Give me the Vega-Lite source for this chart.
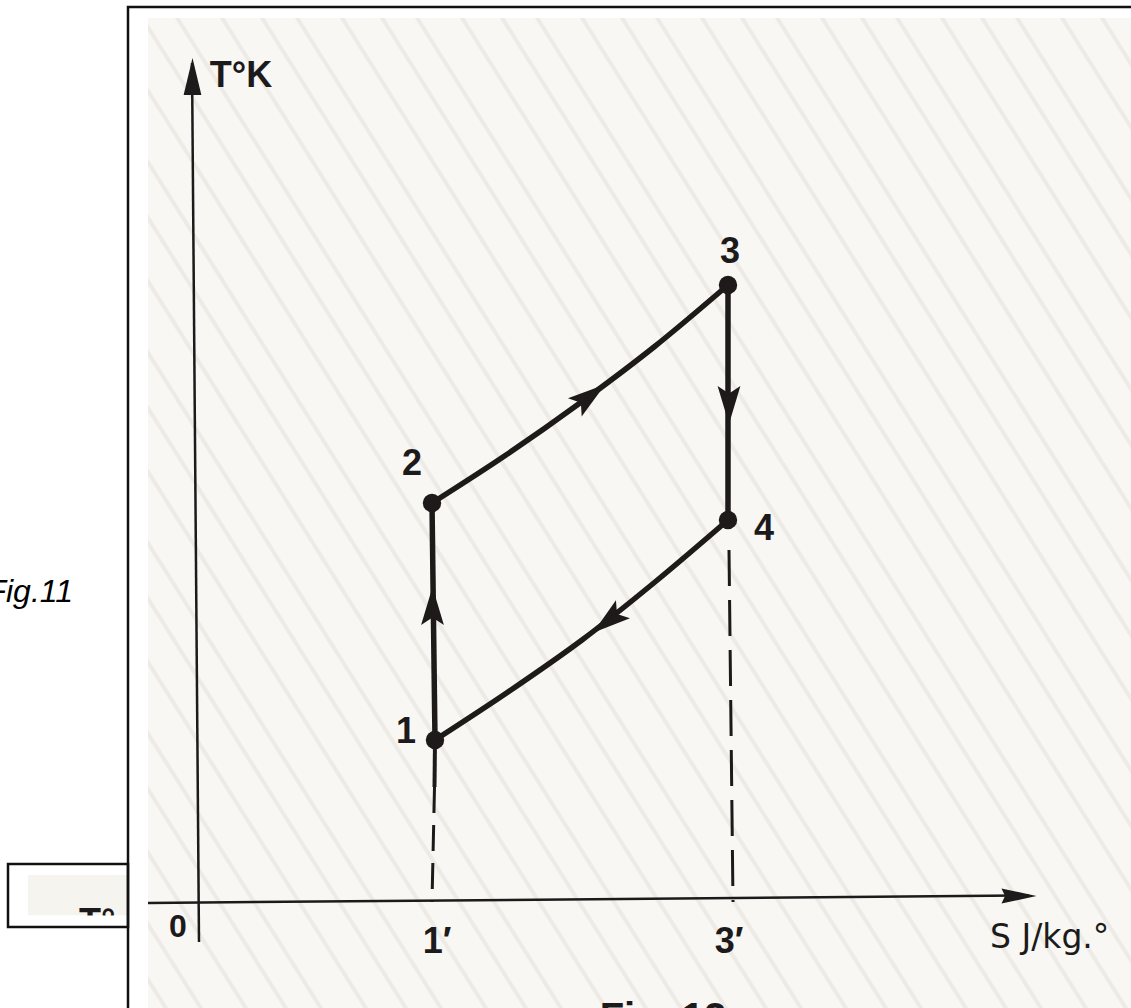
{
  "$schema": "https://vega.github.io/schema/vega-lite/v6.json",
  "width": 1131,
  "height": 1008,
  "autosize": {"type": "fit", "contains": "padding"},
  "padding": 0,
  "background": "#ffffff",
  "config": {"view": {"stroke": null}},
  "datasets": {
    "frame": [
      {"part": "paper", "s": -0.51, "s2": 9.7, "t": 8.85, "t2": -1.3},
      {"part": "cover", "s": -2.2, "s2": -0.51, "t": 9.3, "t2": -1.3},
      {"part": "cover", "s": -2.2, "s2": 9.7, "t": 9.3, "t2": 8.85},
      {"part": "frame", "s": -0.71, "s2": 9.8, "t": 8.96, "t2": -1.4},
      {"part": "box", "s": -1.91, "s2": -0.71, "t": 0.39, "t2": -0.24},
      {"part": "boxPaper", "s": -1.71, "s2": -0.72, "t": 0.28, "t2": -0.125},
      {"part": "boxCover", "s": -1.71, "s2": -0.72, "t": -0.125, "t2": -0.5}
    ],
    "hatch": [
      {"s": -7.0, "s2": -0.7, "t": 8.9, "t2": -1.1},
      {"s": -6.6, "s2": -0.3, "t": 8.9, "t2": -1.1},
      {"s": -6.25, "s2": 0.05, "t": 8.9, "t2": -1.1},
      {"s": -5.8, "s2": 0.5, "t": 8.9, "t2": -1.1},
      {"s": -5.4, "s2": 0.9, "t": 8.9, "t2": -1.1},
      {"s": -5.05, "s2": 1.25, "t": 8.9, "t2": -1.1},
      {"s": -4.6, "s2": 1.7, "t": 8.9, "t2": -1.1},
      {"s": -4.2, "s2": 2.1, "t": 8.9, "t2": -1.1},
      {"s": -3.85, "s2": 2.45, "t": 8.9, "t2": -1.1},
      {"s": -3.4, "s2": 2.9, "t": 8.9, "t2": -1.1},
      {"s": -3.0, "s2": 3.3, "t": 8.9, "t2": -1.1},
      {"s": -2.65, "s2": 3.65, "t": 8.9, "t2": -1.1},
      {"s": -2.2, "s2": 4.1, "t": 8.9, "t2": -1.1},
      {"s": -1.8, "s2": 4.5, "t": 8.9, "t2": -1.1},
      {"s": -1.45, "s2": 4.85, "t": 8.9, "t2": -1.1},
      {"s": -1.0, "s2": 5.3, "t": 8.9, "t2": -1.1},
      {"s": -0.6, "s2": 5.7, "t": 8.9, "t2": -1.1},
      {"s": -0.25, "s2": 6.05, "t": 8.9, "t2": -1.1},
      {"s": 0.2, "s2": 6.5, "t": 8.9, "t2": -1.1},
      {"s": 0.6, "s2": 6.9, "t": 8.9, "t2": -1.1},
      {"s": 0.95, "s2": 7.25, "t": 8.9, "t2": -1.1},
      {"s": 1.4, "s2": 7.7, "t": 8.9, "t2": -1.1},
      {"s": 1.8, "s2": 8.1, "t": 8.9, "t2": -1.1},
      {"s": 2.15, "s2": 8.45, "t": 8.9, "t2": -1.1},
      {"s": 2.6, "s2": 8.9, "t": 8.9, "t2": -1.1},
      {"s": 3.0, "s2": 9.3, "t": 8.9, "t2": -1.1},
      {"s": 3.35, "s2": 9.65, "t": 8.9, "t2": -1.1},
      {"s": 3.8, "s2": 10.1, "t": 8.9, "t2": -1.1},
      {"s": 4.2, "s2": 10.5, "t": 8.9, "t2": -1.1},
      {"s": 4.55, "s2": 10.85, "t": 8.9, "t2": -1.1},
      {"s": 5.0, "s2": 11.3, "t": 8.9, "t2": -1.1},
      {"s": 5.4, "s2": 11.7, "t": 8.9, "t2": -1.1},
      {"s": 5.75, "s2": 12.05, "t": 8.9, "t2": -1.1},
      {"s": 6.2, "s2": 12.5, "t": 8.9, "t2": -1.1},
      {"s": 6.6, "s2": 12.9, "t": 8.9, "t2": -1.1},
      {"s": 6.95, "s2": 13.25, "t": 8.9, "t2": -1.1},
      {"s": 7.4, "s2": 13.7, "t": 8.9, "t2": -1.1},
      {"s": 7.8, "s2": 14.1, "t": 8.9, "t2": -1.1},
      {"s": 8.15, "s2": 14.45, "t": 8.9, "t2": -1.1},
      {"s": 8.6, "s2": 14.9, "t": 8.9, "t2": -1.1},
      {"s": 9.0, "s2": 15.3, "t": 8.9, "t2": -1.1}
    ],
    "rules": [
      {"id": "yaxis", "s": -0.07, "t": 8.4, "s2": 0.0, "t2": -0.39},
      {"id": "xaxis", "s": -0.51, "t": 0.0, "s2": 8.3, "t2": 0.075},
      {"id": "p12", "s": 2.36, "t": 1.63, "s2": 2.33, "t2": 4.0},
      {"id": "p34", "s": 5.29, "t": 6.18, "s2": 5.29, "t2": 3.83},
      {"id": "stub", "s": 2.36, "t": 1.63, "s2": 2.355, "t2": 1.16},
      {"id": "dash1", "s": 2.355, "t": 1.16, "s2": 2.33, "t2": 0.01},
      {"id": "dash3", "s": 5.3, "t": 3.53, "s2": 5.34, "t2": 0.01}
    ],
    "curves": [
      {"seg": "2-3", "s": 2.33, "t": 4.0},
      {"seg": "2-3", "s": 3.07, "t": 4.48},
      {"seg": "2-3", "s": 3.81, "t": 5.0},
      {"seg": "2-3", "s": 4.55, "t": 5.56},
      {"seg": "2-3", "s": 5.29, "t": 6.18},
      {"seg": "4-1", "s": 2.36, "t": 1.63},
      {"seg": "4-1", "s": 3.09, "t": 2.11},
      {"seg": "4-1", "s": 3.83, "t": 2.63},
      {"seg": "4-1", "s": 4.56, "t": 3.21},
      {"seg": "4-1", "s": 5.29, "t": 3.83}
    ],
    "states": [
      {"state": "1", "s": 2.36, "t": 1.63},
      {"state": "2", "s": 2.33, "t": 4.0},
      {"state": "3", "s": 5.29, "t": 6.18},
      {"state": "4", "s": 5.29, "t": 3.83}
    ],
    "arrows": [
      {"seg": "yaxis", "s": -0.065, "t": 8.265},
      {"seg": "xaxis", "s": 8.2, "t": 0.07},
      {"seg": "1-2", "s": 2.335, "t": 2.97},
      {"seg": "2-3", "s": 3.91, "t": 5.07},
      {"seg": "3-4", "s": 5.3, "t": 4.98},
      {"seg": "4-1", "s": 4.09, "t": 2.82}
    ],
    "texts": [
      {"kind": "state", "label": "1", "s": 2.07, "t": 1.6},
      {"kind": "state", "label": "2", "s": 2.13, "t": 4.28},
      {"kind": "state", "label": "3", "s": 5.31, "t": 6.4},
      {"kind": "state", "label": "4", "s": 5.65, "t": 3.63},
      {"kind": "state", "label": "T°K", "s": 0.42, "t": 8.16},
      {"kind": "tick", "label": "1′", "s": 2.38, "t": -0.5},
      {"kind": "tick", "label": "3′", "s": 5.3, "t": -0.5},
      {"kind": "origin", "label": "0", "s": -0.21, "t": -0.34},
      {"kind": "sAxis", "label": "S J/kg.°", "s": 7.91, "t": -0.45},
      {"kind": "fig11", "label": "Fig.11", "s": -1.26, "t": 3.01},
      {"kind": "fig12", "label": "Fig. 12", "s": 4.64, "t": -1.28},
      {"kind": "boxText", "label": "T°", "s": -1.2, "t": -0.31}
    ]
  },
  "encoding": {
    "x": {"field": "s", "type": "quantitative", "scale": {"domain": [-1.99, 9.32], "nice": false, "zero": false}, "axis": null},
    "y": {"field": "t", "type": "quantitative", "scale": {"domain": [-1.05, 9.03], "nice": false, "zero": false}, "axis": null}
  },
  "layer": [
    {
      "data": {"name": "frame"},
      "transform": [{"filter": "datum.part === 'paper'"}],
      "mark": {"type": "rect", "fill": "#f8f7f3", "clip": true},
      "encoding": {"x2": {"field": "s2"}, "y2": {"field": "t2"}}
    },
    {
      "data": {"name": "hatch"},
      "mark": {"type": "rule", "stroke": "#eeebe6", "strokeWidth": 4, "clip": true},
      "encoding": {"x2": {"field": "s2"}, "y2": {"field": "t2"}}
    },
    {
      "data": {"name": "frame"},
      "transform": [{"filter": "datum.part === 'cover' || datum.part === 'box'"}],
      "mark": {"type": "rect", "fill": "#ffffff", "clip": true},
      "encoding": {"x2": {"field": "s2"}, "y2": {"field": "t2"}}
    },
    {
      "data": {"name": "frame"},
      "transform": [{"filter": "datum.part === 'boxPaper'"}],
      "mark": {"type": "rect", "fill": "#f6f4ef", "clip": true},
      "encoding": {"x2": {"field": "s2"}, "y2": {"field": "t2"}}
    },
    {
      "data": {"name": "texts"},
      "transform": [{"filter": "datum.kind === 'boxText'"}],
      "mark": {"type": "text", "font": "Liberation Sans", "fontWeight": "bold", "fontSize": 36, "align": "left", "baseline": "alphabetic", "color": "#1c1a1a", "clip": true},
      "encoding": {"text": {"field": "label"}}
    },
    {
      "data": {"name": "frame"},
      "transform": [{"filter": "datum.part === 'boxCover'"}],
      "mark": {"type": "rect", "fill": "#ffffff", "clip": true},
      "encoding": {"x2": {"field": "s2"}, "y2": {"field": "t2"}}
    },
    {
      "data": {"name": "frame"},
      "transform": [{"filter": "datum.part === 'frame' || datum.part === 'box'"}],
      "mark": {"type": "rect", "fill": "#ffffff", "fillOpacity": 0, "stroke": "#111111", "strokeWidth": 2.5, "clip": true},
      "encoding": {"x2": {"field": "s2"}, "y2": {"field": "t2"}}
    },
    {
      "data": {"name": "texts"},
      "transform": [{"filter": "datum.kind === 'fig11'"}],
      "mark": {"type": "text", "font": "Liberation Sans", "fontStyle": "italic", "fontSize": 32, "align": "right", "baseline": "alphabetic", "color": "#000000", "clip": true},
      "encoding": {"text": {"field": "label"}}
    },
    {
      "data": {"name": "texts"},
      "transform": [{"filter": "datum.kind === 'fig12'"}],
      "mark": {"type": "text", "font": "Liberation Sans", "fontWeight": "bold", "fontSize": 40, "align": "center", "baseline": "alphabetic", "color": "#1c1a1a", "clip": true},
      "encoding": {"text": {"field": "label"}}
    },
    {
      "data": {"name": "rules"},
      "transform": [{"filter": "datum.id === 'yaxis' || datum.id === 'xaxis'"}],
      "mark": {"type": "rule", "stroke": "#1c1a1a", "strokeWidth": 2.5, "clip": true},
      "encoding": {"x2": {"field": "s2"}, "y2": {"field": "t2"}}
    },
    {
      "data": {"name": "rules"},
      "transform": [{"filter": "datum.id === 'dash1'"}],
      "mark": {"type": "rule", "stroke": "#1c1a1a", "strokeWidth": 3, "strokeDash": [26, 12], "clip": true},
      "encoding": {"x2": {"field": "s2"}, "y2": {"field": "t2"}}
    },
    {
      "data": {"name": "rules"},
      "transform": [{"filter": "datum.id === 'dash3'"}],
      "mark": {"type": "rule", "stroke": "#1c1a1a", "strokeWidth": 3, "strokeDash": [36, 14], "clip": true},
      "encoding": {"x2": {"field": "s2"}, "y2": {"field": "t2"}}
    },
    {
      "data": {"name": "rules"},
      "transform": [{"filter": "datum.id === 'stub'"}],
      "mark": {"type": "rule", "stroke": "#1c1a1a", "strokeWidth": 4, "clip": true},
      "encoding": {"x2": {"field": "s2"}, "y2": {"field": "t2"}}
    },
    {
      "data": {"name": "rules"},
      "transform": [{"filter": "datum.id === 'p12' || datum.id === 'p34'"}],
      "mark": {"type": "rule", "stroke": "#1e1a1a", "strokeWidth": 5.5, "clip": true},
      "encoding": {"x2": {"field": "s2"}, "y2": {"field": "t2"}}
    },
    {
      "data": {"name": "curves"},
      "mark": {"type": "line", "stroke": "#1e1a1a", "strokeWidth": 5.5, "interpolate": "monotone", "clip": true},
      "encoding": {"detail": {"field": "seg"}, "order": {"field": "s", "type": "quantitative"}}
    },
    {
      "data": {"name": "arrows"},
      "transform": [{"filter": "datum.seg === 'yaxis'"}],
      "mark": {"type": "point", "shape": "M0,-1L0.48,1L-0.48,1Z", "filled": true, "size": 1369, "angle": 0, "color": "#1c1a1a", "opacity": 1, "strokeWidth": 0, "clip": true},
      "encoding": {}
    },
    {
      "data": {"name": "arrows"},
      "transform": [{"filter": "datum.seg === 'xaxis'"}],
      "mark": {"type": "point", "shape": "M0,-1L0.43,1L0,0.8L-0.43,1Z", "filled": true, "size": 1225, "angle": 90, "color": "#1c1a1a", "opacity": 1, "strokeWidth": 0, "clip": true},
      "encoding": {}
    },
    {
      "data": {"name": "arrows"},
      "transform": [{"filter": "datum.seg === '1-2'"}],
      "mark": {"type": "point", "shape": "M0,-1L0.6,1L0,0.6L-0.6,1Z", "filled": true, "size": 1444, "angle": 0, "color": "#1e1a1a", "opacity": 1, "strokeWidth": 0, "clip": true},
      "encoding": {}
    },
    {
      "data": {"name": "arrows"},
      "transform": [{"filter": "datum.seg === '2-3'"}],
      "mark": {"type": "point", "shape": "M0,-1L0.6,1L0,0.6L-0.6,1Z", "filled": true, "size": 1444, "angle": 53, "color": "#1e1a1a", "opacity": 1, "strokeWidth": 0, "clip": true},
      "encoding": {}
    },
    {
      "data": {"name": "arrows"},
      "transform": [{"filter": "datum.seg === '3-4'"}],
      "mark": {"type": "point", "shape": "M0,-1L0.6,1L0,0.6L-0.6,1Z", "filled": true, "size": 1444, "angle": 180, "color": "#1e1a1a", "opacity": 1, "strokeWidth": 0, "clip": true},
      "encoding": {}
    },
    {
      "data": {"name": "arrows"},
      "transform": [{"filter": "datum.seg === '4-1'"}],
      "mark": {"type": "point", "shape": "M0,-1L0.6,1L0,0.6L-0.6,1Z", "filled": true, "size": 1444, "angle": 232, "color": "#1e1a1a", "opacity": 1, "strokeWidth": 0, "clip": true},
      "encoding": {}
    },
    {
      "data": {"name": "states"},
      "mark": {"type": "circle", "size": 340, "color": "#1e1a1a", "opacity": 1, "clip": true},
      "encoding": {}
    },
    {
      "data": {"name": "texts"},
      "transform": [{"filter": "datum.kind === 'state' || datum.kind === 'tick'"}],
      "mark": {"type": "text", "font": "Liberation Sans", "fontWeight": "bold", "fontSize": 36, "align": "center", "baseline": "alphabetic", "color": "#1c1a1a", "clip": true},
      "encoding": {"text": {"field": "label"}}
    },
    {
      "data": {"name": "texts"},
      "transform": [{"filter": "datum.kind === 'origin'"}],
      "mark": {"type": "text", "font": "Liberation Sans", "fontWeight": "bold", "fontSize": 32, "align": "center", "baseline": "alphabetic", "color": "#1c1a1a", "clip": true},
      "encoding": {"text": {"field": "label"}}
    },
    {
      "data": {"name": "texts"},
      "transform": [{"filter": "datum.kind === 'sAxis'"}],
      "mark": {"type": "text", "font": "DejaVu Sans", "fontSize": 33, "align": "left", "baseline": "alphabetic", "color": "#1c1a1a", "clip": true},
      "encoding": {"text": {"field": "label"}}
    }
  ]
}
